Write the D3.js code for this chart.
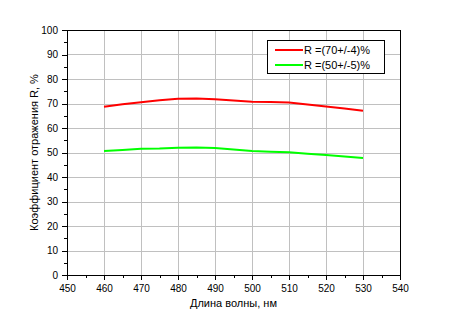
<!DOCTYPE html>
<meta charset="utf-8">
<style>
  body { margin: 0; background: #fff; }
  text { font-family: "Liberation Sans", Arial, sans-serif; fill: #000; }
  .grid line { stroke: #c0c0c0; stroke-width: 1; shape-rendering: crispEdges; }
  .axis path, .axis line { stroke: #000; shape-rendering: crispEdges; }
</style>
<body></body>
<script src="https://d3js.org/d3.v7.min.js"></script>
<script>
// wavelength, nm
var wavelengths = [460, 465, 470, 475, 480, 485, 490, 495, 500, 505, 510, 515, 520, 525, 530];
// reflection coefficient, %
var redValues   = [68.7, 69.7, 70.5, 71.3, 71.9, 72.0, 71.7, 71.2, 70.7, 70.6, 70.4, 69.6, 68.8, 68.0, 67.0];
var greenValues = [50.6, 51.0, 51.5, 51.6, 51.9, 52.0, 51.8, 51.2, 50.6, 50.3, 50.1, 49.5, 49.0, 48.4, 47.8];
var seriesNames = ["R =(70+/-4)%", "R =(50+/-5)%"];
var seriesColors = ["#ff0000", "#00ff00"];
var xTicks = d3.range(450, 541, 10);
var yTicks = d3.range(0, 101, 10);

var width = 450, height = 330;
var plotL = 67, plotR = 400, plotT = 30, plotB = 275;

var svg = d3.select("body").append("svg")
    .attr("width", width)
    .attr("height", height);

var x = d3.scaleLinear().domain([450, 540]).range([plotL, plotR]);
var y = d3.scaleLinear().domain([0, 100]).range([plotB, plotT]);

// grid
var grid = svg.append("g").attr("class", "grid");
grid.selectAll(".gx").data(xTicks.slice(1, -1)).enter().append("line")
    .attr("x1", d => Math.round(x(d)) + 0.5).attr("x2", d => Math.round(x(d)) + 0.5)
    .attr("y1", plotT).attr("y2", plotB);
grid.selectAll(".gy").data(yTicks.slice(1, -1)).enter().append("line")
    .attr("y1", d => Math.round(y(d)) + 0.5).attr("y2", d => Math.round(y(d)) + 0.5)
    .attr("x1", plotL).attr("x2", plotR);

// frame
svg.append("rect")
    .attr("x", plotL + 0.5).attr("y", plotT + 0.5)
    .attr("width", plotR - plotL).attr("height", plotB - plotT)
    .attr("fill", "none").attr("stroke", "#000")
    .attr("shape-rendering", "crispEdges");

// minor ticks
svg.append("g").attr("class", "axis")
    .attr("transform", "translate(0," + plotB + ")")
    .call(d3.axisBottom(x).tickValues(d3.range(455, 540, 10)).tickSize(3).tickFormat(""))
    .call(g => g.select(".domain").remove());
svg.append("g").attr("class", "axis")
    .attr("transform", "translate(" + plotL + ",0)")
    .call(d3.axisLeft(y).tickValues(d3.range(5, 100, 10)).tickSize(3).tickFormat(""))
    .call(g => g.select(".domain").remove());

// major axes
var xAxis = svg.append("g").attr("class", "axis")
    .attr("transform", "translate(0," + plotB + ")")
    .call(d3.axisBottom(x).tickValues(xTicks).tickSize(5).tickPadding(5).tickSizeOuter(0));
xAxis.selectAll("text").style("font-size", "10px");

var yAxis = svg.append("g").attr("class", "axis")
    .attr("transform", "translate(" + plotL + ",0)")
    .call(d3.axisLeft(y).tickValues(yTicks).tickSize(5).tickPadding(4).tickSizeOuter(0));
yAxis.selectAll("text").style("font-size", "10px");

// axis titles
svg.append("text")
    .attr("x", (plotL + plotR) / 2).attr("y", 307)
    .attr("text-anchor", "middle")
    .style("font-size", "11px")
    .text("Длина волны, нм");

svg.append("text")
    .attr("transform", "translate(38," + ((plotT + plotB) / 2) + ") rotate(-90)")
    .attr("text-anchor", "middle")
    .style("font-size", "11px")
    .text("Коэффициент отражения R, %");

// lines
var line = d3.line()
    .x((d, i) => x(wavelengths[i]))
    .y(d => y(d));

[redValues, greenValues].forEach(function(vals, i) {
    svg.append("path")
        .datum(vals)
        .attr("fill", "none")
        .attr("stroke", seriesColors[i])
        .attr("stroke-width", 2)
        .attr("d", line);
});

// legend
var legend = svg.append("g");
legend.append("rect")
    .attr("x", 267.5).attr("y", 40.5)
    .attr("width", 117).attr("height", 33)
    .attr("fill", "#fff").attr("stroke", "#000")
    .attr("shape-rendering", "crispEdges");
seriesNames.forEach(function(name, i) {
    var ly = 50 + i * 15;
    legend.append("line")
        .attr("x1", 275).attr("x2", 303)
        .attr("y1", ly).attr("y2", ly)
        .attr("stroke", seriesColors[i]).attr("stroke-width", 2);
    legend.append("text")
        .attr("x", 304).attr("y", ly + 4)
        .style("font-size", "11px")
        .text(name);
});
</script>
